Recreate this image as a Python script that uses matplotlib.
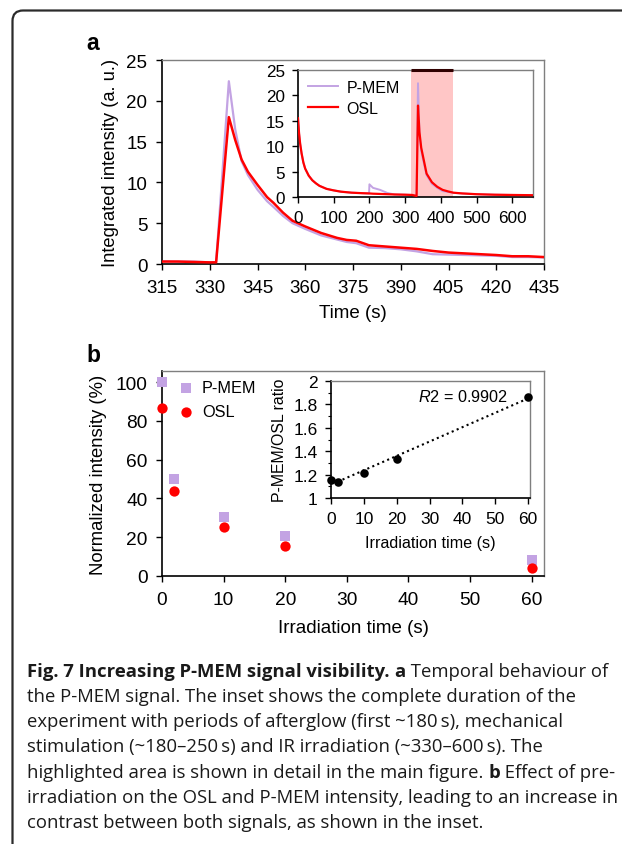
import matplotlib
matplotlib.use("Agg")
import matplotlib.pyplot as plt
import numpy as np
from matplotlib.path import Path
from matplotlib.patches import PathPatch

plt.rcParams['font.family'] = ['Liberation Sans', 'DejaVu Sans']
plt.rcParams['mathtext.fontset'] = 'custom'
plt.rcParams['mathtext.it'] = 'Liberation Sans:italic'
plt.rcParams['mathtext.rm'] = 'Liberation Sans'

# ---------------- data ----------------
t_main = [315, 320, 325, 330, 332, 336, 338, 340, 342, 345, 348, 350, 353, 356,
          360, 365, 370, 373, 376, 380, 385, 390, 395, 400, 405, 410, 415, 420,
          425, 430, 435]
osl_main = [0.3, 0.3, 0.25, 0.2, 0.2, 18.0, 15.2, 12.8, 11.3, 9.7, 8.2, 7.5, 6.3,
            5.3, 4.6, 3.8, 3.2, 2.95, 2.85, 2.3, 2.15, 2.0, 1.85, 1.6, 1.4, 1.3,
            1.2, 1.1, 0.95, 0.95, 0.85]
pmem_main = [0.35, 0.3, 0.3, 0.2, 0.25, 22.4, 16.5, 12.6, 10.9, 9.1, 7.7, 7.0, 5.9,
             5.0, 4.3, 3.5, 3.0, 2.7, 2.55, 2.0, 1.95, 1.8, 1.55, 1.2, 1.15, 1.1,
             1.05, 1.0, 0.85, 0.85, 0.8]

t_full = [0, 3, 6, 10, 15, 20, 30, 40, 50, 60, 80, 100, 120, 150, 180, 199, 200,
          210, 230, 250, 270, 300, 320, 332, 336, 340, 345, 350, 360, 375, 390, 405,
          420, 435, 460, 500, 550, 600, 660]
osl_full = [15.5, 12.5, 10.5, 8.6, 6.8, 5.6, 4.2, 3.3, 2.7, 2.2, 1.6, 1.3, 1.05,
            0.85, 0.75, 0.7, 0.7, 0.65, 0.6, 0.55, 0.5, 0.45, 0.4, 0.2, 18.0, 12.8,
            9.7, 8.0, 4.6, 2.9, 2.0, 1.4, 1.1, 0.85, 0.7, 0.55, 0.45, 0.4, 0.35]
pmem_full = [15.5, 12.5, 10.5, 8.6, 6.8, 5.6, 4.2, 3.3, 2.7, 2.2, 1.6, 1.3, 1.05,
             0.85, 0.75, 0.7, 2.5, 1.8, 1.4, 0.8, 0.5, 0.45, 0.4, 0.25, 22.4, 12.6,
             9.1, 7.4, 4.3, 2.6, 1.8, 1.15, 1.0, 0.8, 0.7, 0.55, 0.45, 0.4, 0.35]
highlight = (315, 435)

irr_time = [0, 2, 10, 20, 60]
pmem_norm = [100, 50, 30.5, 20.5, 8]
osl_norm = [86.5, 44, 25.3, 15.7, 4.2]
ratio = [1.155, 1.14, 1.21, 1.33, 1.865]
r2_text = "0.9902"

PMEM_C = '#c3a3e3'
OSL_C = '#ff0000'

W, H = 622, 845
fig = plt.figure(figsize=(W / 100, H / 100), dpi=100)


def rect(l, t, r, b):
    return [l / W, 1 - b / H, (r - l) / W, (b - t) / H]


def style(ax, lw=1.2, pad=5):
    ax.spines['left'].set_color('black')
    ax.spines['bottom'].set_color('black')
    ax.spines['left'].set_linewidth(lw)
    ax.spines['bottom'].set_linewidth(lw)
    for s in ('top', 'right'):
        ax.spines[s].set_color('#7f7f7f')
        ax.spines[s].set_linewidth(1.0)
    ax.tick_params(direction='out', length=4.5, width=1.0, pad=pad)


# ---------------- background frame + caption ----------------
bg = fig.add_axes([0, 0, 1, 1], zorder=-5)
bg.set_xlim(0, W)
bg.set_ylim(H, 0)
bg.axis('off')
verts = [(12.5, H + 2), (12.5, 22), (12.5, 11.5), (23, 11.5), (W + 2, 11.5)]
codes = [Path.MOVETO, Path.LINETO, Path.CURVE3, Path.CURVE3, Path.LINETO]
bg.add_patch(PathPatch(Path(verts, codes), fill=False, lw=1.6, ec='#2b2b2b'))

cap_family = ['Open Sans', 'DejaVu Sans']
cap_size = 13.3
cap_lines = [
    [("Fig. 7 Increasing P-MEM signal visibility.", True), (" ", False),
     ("a", True), (" Temporal behaviour of", False)],
    [("the P-MEM signal. The inset shows the complete duration of the", False)],
    [("experiment with periods of afterglow (first ~180\u2009s), mechanical", False)],
    [("stimulation (~180\u2013250\u2009s) and IR irradiation (~330\u2013600\u2009s). The", False)],
    [("highlighted area is shown in detail in the main figure. ", False),
     ("b", True), (" Effect of pre-", False)],
    [("irradiation on the OSL and P-MEM intensity, leading to an increase in", False)],
    [("contrast between both signals, as shown in the inset.", False)],
]
fig.canvas.draw()
renderer = fig.canvas.get_renderer()
y0 = 677
for i, line in enumerate(cap_lines):
    x = 27
    y = y0 + i * 25.15
    for txt, bold in line:
        t = bg.text(x, y, txt, fontsize=cap_size, family=cap_family,
                    fontweight='bold' if bold else 'normal', va='baseline', ha='left',
                    color='#1a1a1a')
        bb = t.get_window_extent(renderer=renderer)
        x += bb.width * (W / fig.bbox.width)

# ---------------- panel a ----------------
ax = fig.add_axes(rect(162, 61, 544, 265))
ax.plot(t_main, pmem_main, color=PMEM_C, lw=1.6, zorder=2)
ax.plot(t_main, osl_main, color=OSL_C, lw=1.8, zorder=3)
ax.set_xlim(315, 435)
ax.set_ylim(0, 25)
ax.set_xticks(np.arange(315, 436, 15))
ax.set_yticks(np.arange(0, 26, 5))
style(ax, pad=6)
ax.tick_params(labelsize=13.5)
ax.set_xlabel('Time (s)', fontsize=13.5, labelpad=6)
ax.set_ylabel('Integrated intensity (a. u.)', fontsize=13.2, labelpad=5)
fig.text(93 / W, 1 - 43 / H, 'a', fontsize=16.5, fontweight='bold', va='center',
         ha='center')

ins = fig.add_axes(rect(298, 71, 533, 198))
ins.axvspan(highlight[0], highlight[1], color='#ffc6c6', zorder=0, lw=0)
ins.plot(t_full, pmem_full, color=PMEM_C, lw=1.4, label='P-MEM', zorder=2)
ins.plot(t_full, osl_full, color=OSL_C, lw=1.6, label='OSL', zorder=3)
ins.set_xlim(0, 658)
ins.set_ylim(0, 25)
ins.set_xticks(np.arange(0, 601, 100))
ins.set_yticks(np.arange(0, 26, 5))
style(ins, pad=5)
ins.hlines(25, highlight[0], highlight[1], color='#300000', lw=2.2, zorder=5,
           clip_on=False)
ins.tick_params(labelsize=12.3)
ins.legend(loc='upper left', frameon=False, fontsize=11.5, handlelength=1.9,
           borderaxespad=0.2, labelspacing=0.4, handletextpad=0.55)

# ---------------- panel b ----------------
bx = fig.add_axes(rect(162, 372, 544, 577))
bx.scatter(irr_time, pmem_norm, marker='s', s=50, color=PMEM_C, label='P-MEM',
           clip_on=False, zorder=3, lw=0)
bx.scatter(irr_time, osl_norm, marker='o', s=55, color=OSL_C, label='OSL',
           clip_on=False, zorder=4, lw=0)
bx.set_xlim(0, 62)
bx.set_ylim(0, 105.7)
bx.set_xticks(np.arange(0, 61, 10))
bx.set_yticks(np.arange(0, 101, 20))
style(bx, pad=6)
bx.tick_params(labelsize=13.8)
bx.set_xlabel('Irradiation time (s)', fontsize=13.5, labelpad=8)
bx.set_ylabel('Normalized intensity (%)', fontsize=13.3, labelpad=6)
bx.legend(loc='upper left', bbox_to_anchor=(0.0, 1.025), frameon=False,
          fontsize=11.7, handlelength=1.2, handletextpad=0.35, labelspacing=0.55,
          scatterpoints=1)
fig.text(93 / W, 1 - 356 / H, 'b', fontsize=16.5, fontweight='bold', va='center',
         ha='center')

bi = fig.add_axes(rect(331, 382, 530, 499))
bi.scatter(irr_time, ratio, color='black', s=38, zorder=3, clip_on=False, lw=0)
coef = np.polyfit(irr_time, ratio, 1)
xf = np.array([irr_time[1], irr_time[-1]])
bi.plot(xf, np.polyval(coef, xf), color='black', ls=(0, (1, 1.6)), lw=1.5)
bi.set_xlim(0, 60.6)
bi.set_ylim(1, 2)
bi.set_xticks(np.arange(0, 61, 10))
bi.set_yticks(np.arange(1, 2.01, 0.2))
bi.set_yticklabels(['1', '1.2', '1.4', '1.6', '1.8', '2'])
bi.set_yticks(np.arange(1.1, 2.0, 0.2), minor=True)
style(bi, pad=5)
bi.tick_params(which='minor', length=2.5, width=0.8)
bi.tick_params(labelsize=12.5)
bi.set_xlabel('Irradiation time (s)', fontsize=11.6, labelpad=6)
bi.set_ylabel('P-MEM/OSL ratio', fontsize=11.4, labelpad=5)
bi.text(0.89, 0.87, r'$R2$ = ' + r2_text, transform=bi.transAxes, fontsize=11.7,
        ha='right', va='center')

fig.savefig('out.png', dpi=100)
